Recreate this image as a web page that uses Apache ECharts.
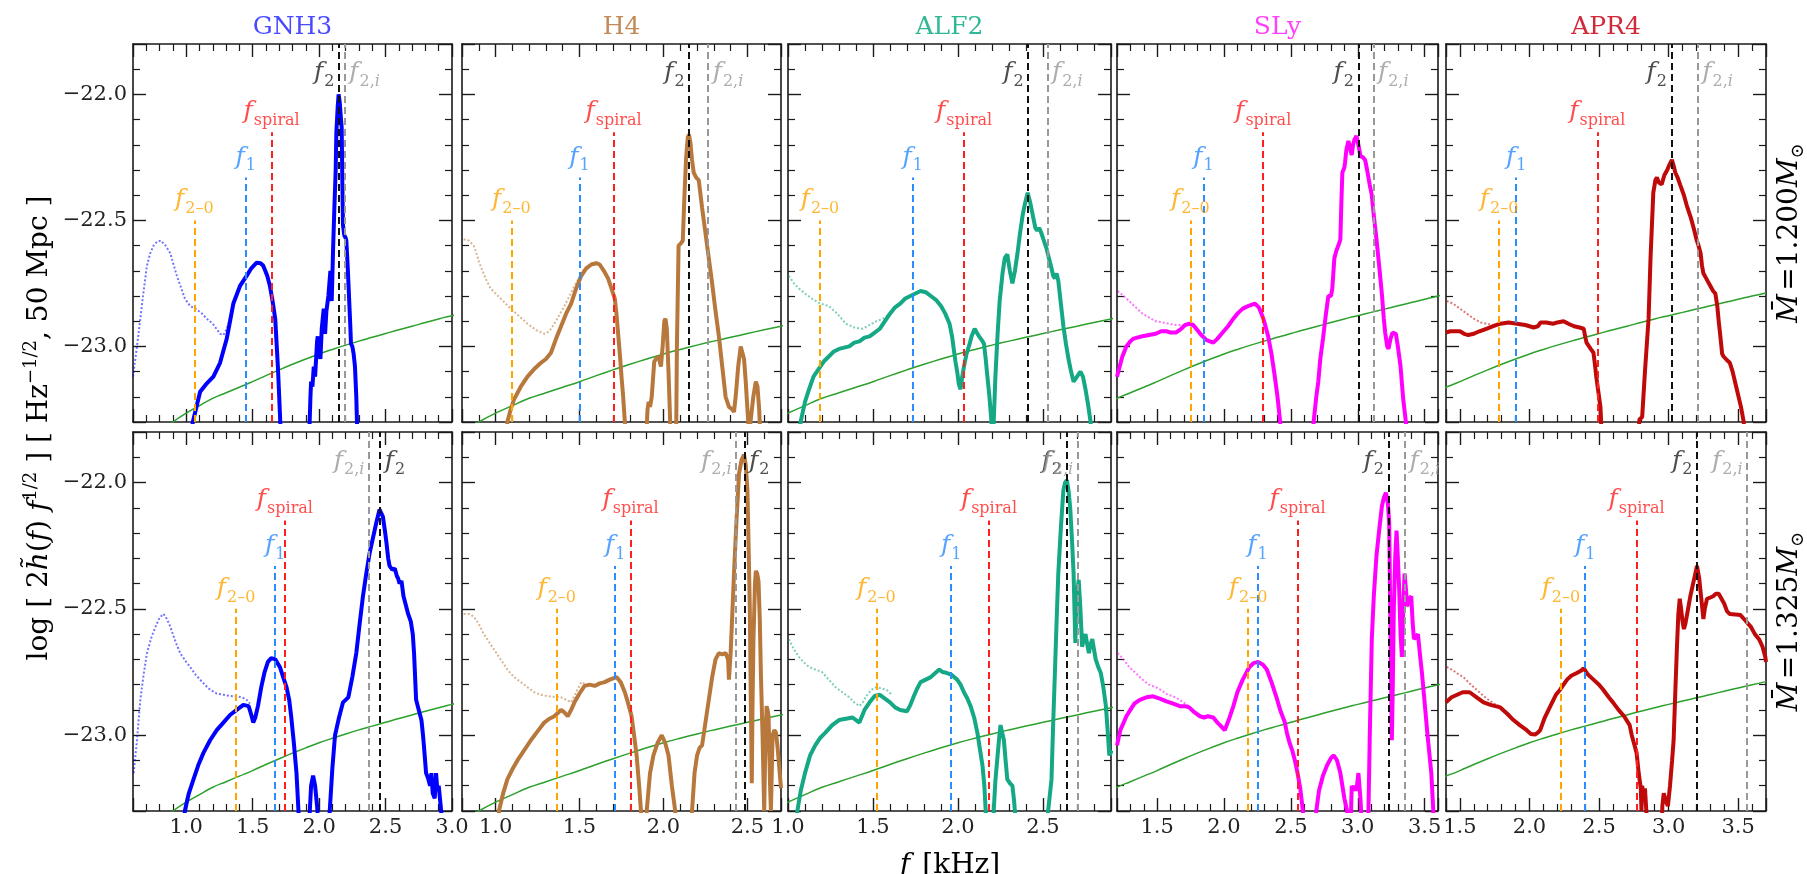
<!DOCTYPE html>
<html><head><meta charset="utf-8">
<script src="https://cdn.jsdelivr.net/npm/echarts@6/dist/echarts.min.js"></script>
<style>html,body{margin:0;padding:0;background:#fff}#c{width:1807px;height:874px}</style>
</head><body><div id="c"></div>
<script>
// ---------------- DATA ----------------
const EOS = ['GNH3', 'H4', 'ALF2', 'SLy', 'APR4'];
const MASSES = ['1.200', '1.325'];
const xMinArr = [0.6, 0.8, 1.0, 1.2, 1.4];
const xMaxArr = [3.0, 2.7, 2.9, 3.6, 3.7];
const yMin = -23.3, yMax = -21.8;

// detector noise curve (same in every panel)
const noiseF = [0.6,0.7,0.8,0.9,1.0,1.1,1.2,1.3,1.4,1.5,1.6,1.7,1.8,1.9,2.0,2.1,2.2,2.3,2.4,2.5,2.6,2.7,2.8,2.9,3.0,3.1,3.2,3.3,3.4,3.5,3.6,3.7];
const noiseV = [-23.43,-23.38,-23.34,-23.30,-23.265,-23.235,-23.206,-23.184,-23.162,-23.14,-23.116,-23.093,-23.071,-23.05,-23.03,-23.012,-22.995,-22.979,-22.964,-22.949,-22.934,-22.92,-22.905,-22.891,-22.878,-22.865,-22.852,-22.839,-22.826,-22.813,-22.80,-22.788];

// characteristic frequencies (kHz), per EOS, M = 1.200 and 1.325
const f20_1200 = [1.062, 1.094, 1.188, 1.748, 1.782];
const f1_1200  = [1.448, 1.500, 1.734, 1.847, 1.904];
const fsp_1200 = [1.643, 1.703, 2.036, 2.293, 2.488];
const f2_1200  = [2.150, 2.153, 2.413, 3.005, 3.020];
const f2i_1200 = [2.193, 2.266, 2.526, 3.117, 3.210];
const f20_1325 = [1.375, 1.364, 1.520, 2.180, 2.226];
const f1_1325  = [1.670, 1.712, 1.960, 2.250, 2.400];
const fsp_1325 = [1.743, 1.804, 2.182, 2.550, 2.770];
const f2_1325  = [2.460, 2.482, 2.638, 3.230, 3.204];
const f2i_1325 = [2.375, 2.433, 2.704, 3.353, 3.565];

// spectra: solid (full) and dotted (inspiral) curves
const GNH3_1200 = [[1.03,-23.4],[1.05,-23.3],[1.105,-23.18],[1.15,-23.15],[1.205,-23.12],[1.255,-23.065],[1.305,-22.97],[1.355,-22.83],[1.405,-22.76],[1.455,-22.72],[1.49,-22.69],[1.53,-22.668],[1.56,-22.67],[1.58,-22.68],[1.61,-22.72],[1.63,-22.76],[1.65,-22.82],[1.67,-22.89],[1.69,-23.08],[1.70,-23.2],[1.72,-23.45],
 [1.92,-23.45],[1.935,-23.2],[1.94,-23.14],[1.95,-23.16],[1.96,-23.08],[1.97,-23.12],[1.985,-22.98],[1.99,-22.96],[2.0,-23.02],[2.01,-23.05],[2.02,-22.93],[2.035,-22.85],[2.045,-22.95],[2.055,-22.86],[2.07,-22.80],[2.085,-22.70],[2.095,-22.82],[2.105,-22.62],[2.115,-22.45],[2.125,-22.30],[2.13,-22.15],[2.14,-22.05],[2.147,-22.0],[2.155,-22.03],[2.165,-22.10],[2.17,-22.13],[2.175,-22.35],[2.18,-22.52],[2.19,-22.56],[2.2,-22.57],[2.205,-22.58],[2.215,-22.68],[2.225,-22.80],[2.235,-22.92],[2.24,-22.99],[2.25,-23.0],[2.26,-23.03],[2.27,-23.08],[2.28,-23.2],[2.29,-23.4]];
const GNH3_1200_insp = [[0.6,-23.12],[0.63,-23.0],[0.655,-22.89],[0.68,-22.78],[0.705,-22.68],[0.73,-22.63],[0.755,-22.60],[0.78,-22.585],[0.81,-22.58],[0.845,-22.60],[0.88,-22.63],[0.93,-22.72],[0.99,-22.81],[1.03,-22.84],[1.07,-22.85],[1.12,-22.87],[1.155,-22.89],[1.2,-22.91],[1.255,-22.95],[1.28,-22.955],[1.305,-22.93],[1.33,-22.89],[1.355,-22.84],[1.38,-22.8],[1.405,-22.76],[1.45,-22.72]];
const GNH3_1325 = [[0.98,-23.4],[0.99,-23.3],[1.02,-23.23],[1.055,-23.175],[1.09,-23.12],[1.13,-23.07],[1.18,-23.02],[1.23,-22.98],[1.28,-22.95],[1.33,-22.92],[1.38,-22.9],[1.43,-22.88],[1.47,-22.885],[1.49,-22.92],[1.505,-22.95],[1.52,-22.93],[1.54,-22.885],[1.565,-22.81],[1.59,-22.75],[1.615,-22.71],[1.64,-22.695],[1.67,-22.70],[1.705,-22.73],[1.73,-22.77],[1.755,-22.81],[1.775,-22.86],[1.79,-22.925],[1.81,-23.03],[1.83,-23.15],[1.845,-23.3],[1.85,-23.4],
 [1.92,-23.4],[1.93,-23.3],[1.94,-23.2],[1.955,-23.16],[1.97,-23.2],[1.985,-23.28],[2.0,-23.4],
 [2.07,-23.4],[2.08,-23.3],[2.1,-23.13],[2.12,-23.0],[2.15,-22.93],[2.18,-22.87],[2.2,-22.86],[2.22,-22.85],[2.25,-22.77],[2.28,-22.675],[2.305,-22.56],[2.33,-22.45],[2.355,-22.36],[2.38,-22.28],[2.405,-22.22],[2.43,-22.16],[2.455,-22.107],[2.48,-22.135],[2.495,-22.19],[2.505,-22.23],[2.52,-22.3],[2.53,-22.33],[2.55,-22.345],[2.57,-22.34],[2.585,-22.37],[2.595,-22.38],[2.605,-22.40],[2.62,-22.39],[2.635,-22.45],[2.65,-22.48],[2.67,-22.52],[2.69,-22.55],[2.705,-22.60],[2.715,-22.68],[2.73,-22.86],[2.745,-22.89],[2.755,-22.91],[2.77,-22.94],[2.78,-22.99],[2.79,-23.05],[2.805,-23.15],[2.82,-23.17],[2.835,-23.2],[2.845,-23.15],[2.855,-23.23],[2.87,-23.25],[2.88,-23.15],[2.89,-23.22],[2.9,-23.2],[2.915,-23.28],[2.935,-23.4]];
const GNH3_1325_insp = [[0.605,-23.15],[0.63,-23.02],[0.655,-22.86],[0.68,-22.76],[0.705,-22.675],[0.74,-22.61],[0.77,-22.57],[0.80,-22.535],[0.83,-22.52],[0.855,-22.54],[0.88,-22.57],[0.92,-22.63],[0.955,-22.675],[1.0,-22.71],[1.03,-22.73],[1.07,-22.76],[1.105,-22.78],[1.14,-22.80],[1.18,-22.82],[1.23,-22.835],[1.28,-22.84],[1.33,-22.845],[1.38,-22.846],[1.42,-22.85],[1.455,-22.86],[1.48,-22.875]];

const H4_1200 = [[1.06,-23.4],[1.07,-23.3],[1.09,-23.25],[1.11,-23.21],[1.15,-23.16],[1.19,-23.12],[1.23,-23.09],[1.27,-23.065],[1.30,-23.05],[1.33,-23.025],[1.36,-22.97],[1.39,-22.92],[1.42,-22.87],[1.45,-22.83],[1.48,-22.77],[1.51,-22.72],[1.54,-22.69],[1.57,-22.675],[1.6,-22.67],[1.62,-22.675],[1.645,-22.70],[1.67,-22.73],[1.69,-22.77],[1.71,-22.81],[1.72,-22.87],[1.73,-22.95],[1.74,-23.03],[1.75,-23.12],[1.76,-23.2],[1.77,-23.3],[1.78,-23.4],
 [1.895,-23.4],[1.905,-23.25],[1.912,-23.22],[1.92,-23.24],[1.93,-23.2],[1.945,-23.06],[1.955,-23.05],[1.97,-23.04],[1.985,-23.08],[1.995,-23.0],[2.005,-22.9],[2.012,-22.89],[2.02,-22.93],[2.03,-23.1],[2.04,-23.3],[2.045,-23.4],
 [2.075,-23.4],[2.08,-23.0],[2.09,-22.6],[2.105,-22.59],[2.115,-22.58],[2.125,-22.4],[2.135,-22.25],[2.145,-22.17],[2.152,-22.16],[2.16,-22.19],[2.17,-22.26],[2.18,-22.31],[2.195,-22.33],[2.21,-22.34],[2.23,-22.45],[2.25,-22.55],[2.27,-22.65],[2.29,-22.75],[2.31,-22.86],[2.33,-22.96],[2.35,-23.08],[2.37,-23.2],[2.39,-23.24],[2.41,-23.25],[2.42,-23.26],[2.43,-23.2],[2.445,-23.08],[2.46,-23.0],[2.47,-23.0],[2.48,-23.05],[2.49,-23.14],[2.5,-23.25],[2.51,-23.35],[2.52,-23.35],[2.535,-23.2],[2.55,-23.14],[2.56,-23.16],[2.57,-23.25],[2.58,-23.4]];
const H4_1200_insp = [[0.81,-22.575],[0.84,-22.58],[0.87,-22.60],[0.91,-22.68],[0.94,-22.73],[0.97,-22.77],[1.03,-22.81],[1.09,-22.85],[1.14,-22.88],[1.19,-22.91],[1.24,-22.935],[1.29,-22.95],[1.32,-22.94],[1.35,-22.91],[1.41,-22.84],[1.47,-22.76],[1.53,-22.69],[1.59,-22.668]];
const H4_1325 = [[1.01,-23.4],[1.02,-23.3],[1.045,-23.23],[1.07,-23.175],[1.10,-23.135],[1.13,-23.10],[1.17,-23.06],[1.21,-23.02],[1.25,-22.985],[1.29,-22.95],[1.32,-22.935],[1.35,-22.925],[1.39,-22.90],[1.41,-22.91],[1.43,-22.925],[1.45,-22.9],[1.47,-22.87],[1.50,-22.835],[1.53,-22.805],[1.56,-22.80],[1.59,-22.805],[1.62,-22.795],[1.65,-22.79],[1.68,-22.78],[1.72,-22.77],[1.745,-22.79],[1.77,-22.83],[1.79,-22.875],[1.81,-22.925],[1.825,-23.0],[1.84,-23.08],[1.855,-23.2],[1.866,-23.3],[1.87,-23.4],
 [1.895,-23.4],[1.90,-23.3],[1.92,-23.15],[1.94,-23.08],[1.965,-23.03],[1.99,-23.0],[2.01,-23.03],[2.03,-23.08],[2.05,-23.2],[2.07,-23.3],[2.075,-23.4],
 [2.165,-23.4],[2.17,-23.3],[2.185,-23.15],[2.20,-23.08],[2.215,-23.05],[2.23,-23.04],[2.25,-22.95],[2.27,-22.86],[2.29,-22.77],[2.31,-22.70],[2.33,-22.675],[2.35,-22.68],[2.37,-22.675],[2.385,-22.70],[2.39,-22.78],[2.40,-22.675],[2.41,-22.52],[2.42,-22.36],[2.435,-22.15],[2.45,-21.965],[2.465,-21.91],[2.48,-21.89],[2.49,-21.93],[2.50,-22.03],[2.507,-22.25],[2.514,-22.49],[2.52,-22.85],[2.526,-23.19],[2.53,-22.9],[2.536,-22.62],[2.545,-22.40],[2.55,-22.35],[2.558,-22.36],[2.566,-22.39],[2.574,-22.55],[2.58,-22.75],[2.59,-23.0],[2.60,-23.3],[2.605,-23.1],[2.614,-22.885],[2.62,-22.9],[2.626,-22.925],[2.635,-23.2],[2.64,-23.3],[2.65,-23.0],[2.66,-22.98],[2.67,-22.99],[2.68,-23.05],[2.70,-23.21]];
const H4_1325_insp = [[0.81,-22.52],[0.84,-22.52],[0.87,-22.53],[0.90,-22.56],[0.93,-22.60],[0.96,-22.63],[0.99,-22.66],[1.03,-22.70],[1.07,-22.74],[1.11,-22.77],[1.15,-22.79],[1.19,-22.81],[1.23,-22.83],[1.27,-22.84],[1.31,-22.846],[1.35,-22.848],[1.39,-22.85],[1.42,-22.86],[1.45,-22.87],[1.48,-22.83],[1.51,-22.79],[1.54,-22.8]];

const ALF2_1200 = [[1.065,-23.4],[1.074,-23.3],[1.10,-23.22],[1.124,-23.17],[1.15,-23.12],[1.18,-23.09],[1.21,-23.06],[1.24,-23.04],[1.27,-23.02],[1.30,-23.01],[1.33,-23.005],[1.36,-23.0],[1.39,-22.985],[1.42,-22.98],[1.45,-22.965],[1.48,-22.96],[1.51,-22.945],[1.54,-22.93],[1.57,-22.9],[1.60,-22.87],[1.63,-22.845],[1.66,-22.83],[1.69,-22.81],[1.72,-22.80],[1.75,-22.79],[1.78,-22.78],[1.81,-22.785],[1.84,-22.80],[1.87,-22.815],[1.90,-22.84],[1.925,-22.87],[1.95,-22.91],[1.965,-22.96],[1.975,-23.01],[1.985,-23.06],[1.995,-23.10],[2.005,-23.15],[2.015,-23.17],[2.025,-23.12],[2.035,-23.08],[2.05,-23.03],[2.064,-23.0],[2.08,-22.96],[2.098,-22.93],[2.11,-22.945],[2.124,-22.96],[2.14,-22.975],[2.153,-22.99],[2.163,-23.05],[2.17,-23.1],[2.185,-23.2],[2.197,-23.3],[2.2,-23.4],
 [2.205,-23.4],[2.21,-23.3],[2.22,-23.12],[2.233,-22.95],[2.245,-22.82],[2.262,-22.71],[2.275,-22.65],[2.29,-22.635],[2.305,-22.7],[2.32,-22.75],[2.335,-22.7],[2.35,-22.63],[2.365,-22.55],[2.38,-22.48],[2.395,-22.43],[2.41,-22.39],[2.425,-22.43],[2.44,-22.48],[2.455,-22.53],[2.466,-22.54],[2.478,-22.53],[2.49,-22.55],[2.505,-22.58],[2.52,-22.61],[2.535,-22.65],[2.55,-22.69],[2.56,-22.72],[2.57,-22.73],[2.58,-22.71],[2.59,-22.74],[2.605,-22.83],[2.62,-22.92],[2.635,-22.99],[2.65,-23.05],[2.665,-23.1],[2.68,-23.14],[2.70,-23.12],[2.72,-23.10],[2.735,-23.12],[2.75,-23.17],[2.765,-23.23],[2.78,-23.3],[2.79,-23.4]];
const ALF2_1200_insp = [[1.005,-22.72],[1.035,-22.75],[1.064,-22.77],[1.10,-22.79],[1.14,-22.81],[1.19,-22.83],[1.24,-22.84],[1.29,-22.87],[1.34,-22.91],[1.39,-22.925],[1.44,-22.93],[1.48,-22.915],[1.52,-22.90],[1.56,-22.89],[1.60,-22.87]];
const ALF2_1325 = [[1.045,-23.4],[1.055,-23.3],[1.075,-23.22],[1.10,-23.15],[1.13,-23.08],[1.16,-23.04],[1.19,-23.01],[1.22,-22.99],[1.26,-22.96],[1.30,-22.94],[1.34,-22.935],[1.38,-22.93],[1.40,-22.94],[1.42,-22.95],[1.45,-22.9],[1.48,-22.87],[1.51,-22.845],[1.54,-22.84],[1.57,-22.855],[1.60,-22.87],[1.63,-22.89],[1.66,-22.90],[1.70,-22.905],[1.72,-22.88],[1.74,-22.846],[1.76,-22.815],[1.78,-22.79],[1.81,-22.78],[1.84,-22.77],[1.865,-22.755],[1.89,-22.74],[1.91,-22.75],[1.935,-22.754],[1.96,-22.76],[1.995,-22.78],[2.015,-22.80],[2.035,-22.83],[2.055,-22.855],[2.074,-22.885],[2.095,-22.93],[2.114,-22.99],[2.13,-23.06],[2.144,-23.12],[2.155,-23.2],[2.163,-23.3],[2.167,-23.4],
 [2.205,-23.4],[2.21,-23.3],[2.22,-23.18],[2.233,-23.08],[2.245,-22.99],[2.25,-22.96],[2.26,-22.99],[2.27,-23.02],[2.28,-23.1],[2.29,-23.175],[2.305,-23.19],[2.32,-23.2],[2.33,-23.26],[2.34,-23.35],[2.345,-23.4],
 [2.52,-23.4],[2.53,-23.3],[2.55,-23.175],[2.56,-22.95],[2.57,-22.754],[2.58,-22.55],[2.59,-22.36],[2.605,-22.18],[2.62,-22.03],[2.63,-22.0],[2.64,-21.99],[2.65,-22.03],[2.66,-22.10],[2.67,-22.22],[2.68,-22.36],[2.69,-22.635],[2.70,-22.45],[2.71,-22.385],[2.72,-22.5],[2.73,-22.65],[2.74,-22.62],[2.75,-22.60],[2.76,-22.64],[2.77,-22.675],[2.78,-22.64],[2.79,-22.62],[2.80,-22.66],[2.81,-22.70],[2.825,-22.73],[2.84,-22.754],[2.855,-22.81],[2.87,-22.885],[2.88,-22.98],[2.89,-23.08],[2.905,-23.06]];
const ALF2_1325_insp = [[1.005,-22.62],[1.035,-22.66],[1.064,-22.69],[1.09,-22.71],[1.124,-22.73],[1.16,-22.74],[1.20,-22.75],[1.24,-22.78],[1.28,-22.81],[1.32,-22.83],[1.36,-22.85],[1.39,-22.87],[1.42,-22.885],[1.44,-22.87],[1.46,-22.846],[1.49,-22.82],[1.52,-22.81],[1.55,-22.815],[1.58,-22.82],[1.61,-22.84]];

const SLy_1200 = [[1.2,-23.12],[1.22,-23.08],[1.24,-23.04],[1.27,-23.0],[1.30,-22.98],[1.32,-22.97],[1.35,-22.965],[1.39,-22.96],[1.44,-22.955],[1.49,-22.95],[1.53,-22.94],[1.57,-22.94],[1.60,-22.945],[1.64,-22.945],[1.68,-22.93],[1.71,-22.915],[1.74,-22.91],[1.77,-22.915],[1.80,-22.935],[1.83,-22.955],[1.87,-22.975],[1.92,-22.985],[1.95,-22.97],[1.99,-22.945],[2.03,-22.92],[2.07,-22.89],[2.10,-22.87],[2.14,-22.85],[2.18,-22.84],[2.23,-22.83],[2.26,-22.845],[2.28,-22.87],[2.30,-22.9],[2.33,-22.96],[2.355,-23.03],[2.38,-23.12],[2.40,-23.2],[2.42,-23.3],[2.43,-23.4],
 [2.66,-23.4],[2.67,-23.3],[2.69,-23.2],[2.705,-23.14],[2.72,-23.05],[2.74,-22.97],[2.76,-22.88],[2.78,-22.80],[2.80,-22.80],[2.81,-22.77],[2.825,-22.65],[2.84,-22.62],[2.855,-22.60],[2.87,-22.575],[2.878,-22.42],[2.885,-22.31],[2.9,-22.29],[2.905,-22.27],[2.915,-22.22],[2.93,-22.185],[2.945,-22.22],[2.955,-22.24],[2.965,-22.2],[2.975,-22.18],[2.99,-22.165],[3.005,-22.2],[3.02,-22.245],[3.04,-22.25],[3.055,-22.26],[3.07,-22.3],[3.09,-22.36],[3.105,-22.40],[3.12,-22.48],[3.14,-22.575],[3.16,-22.68],[3.18,-22.79],[3.195,-22.89],[3.205,-22.945],[3.22,-23.0],[3.23,-23.01],[3.245,-22.97],[3.26,-22.945],[3.27,-22.94],[3.285,-22.95],[3.30,-23.0],[3.32,-23.08],[3.34,-23.21],[3.36,-23.3],[3.37,-23.4]];
const SLy_1200_insp = [[1.205,-22.78],[1.25,-22.80],[1.29,-22.82],[1.34,-22.845],[1.39,-22.87],[1.44,-22.885],[1.49,-22.90],[1.54,-22.905],[1.59,-22.91],[1.64,-22.915],[1.69,-22.915],[1.74,-22.91]];
const SLy_1325 = [[1.2,-23.04],[1.225,-22.98],[1.25,-22.95],[1.27,-22.925],[1.30,-22.9],[1.33,-22.875],[1.37,-22.86],[1.42,-22.85],[1.47,-22.846],[1.52,-22.855],[1.57,-22.866],[1.62,-22.875],[1.67,-22.885],[1.71,-22.885],[1.74,-22.89],[1.78,-22.91],[1.82,-22.925],[1.85,-22.93],[1.88,-22.925],[1.92,-22.93],[1.95,-22.95],[1.97,-22.96],[2.005,-22.98],[2.035,-22.94],[2.07,-22.885],[2.10,-22.83],[2.14,-22.78],[2.17,-22.75],[2.19,-22.73],[2.22,-22.715],[2.255,-22.71],[2.29,-22.72],[2.32,-22.74],[2.355,-22.79],[2.39,-22.846],[2.42,-22.9],[2.455,-22.95],[2.47,-22.99],[2.49,-23.03],[2.51,-23.06],[2.53,-23.10],[2.55,-23.15],[2.57,-23.21],[2.59,-23.3],[2.60,-23.4],
 [2.68,-23.4],[2.69,-23.3],[2.71,-23.22],[2.74,-23.16],[2.77,-23.12],[2.80,-23.09],[2.82,-23.08],[2.845,-23.1],[2.87,-23.15],[2.90,-23.25],[2.92,-23.3],[2.93,-23.4],
 [2.945,-23.4],[2.955,-23.2],[2.97,-23.22],[2.98,-23.2],[2.99,-23.22],[3.005,-23.15],[3.02,-23.25],[3.035,-23.4],
 [3.075,-23.4],[3.08,-23.3],[3.09,-23.0],[3.105,-22.62],[3.12,-22.45],[3.14,-22.29],[3.16,-22.19],[3.18,-22.096],[3.195,-22.06],[3.21,-22.04],[3.225,-22.08],[3.235,-22.16],[3.245,-22.6],[3.255,-23.02],[3.262,-22.8],[3.27,-22.49],[3.28,-22.3],[3.29,-22.19],[3.30,-22.3],[3.31,-22.425],[3.32,-22.6],[3.33,-22.69],[3.34,-22.5],[3.35,-22.36],[3.36,-22.42],[3.37,-22.49],[3.385,-22.46],[3.40,-22.45],[3.41,-22.55],[3.42,-22.62],[3.435,-22.61],[3.45,-22.60],[3.465,-22.68],[3.48,-22.754],[3.50,-22.87],[3.52,-22.99],[3.535,-23.07],[3.55,-23.15],[3.565,-23.3],[3.57,-23.4]];
const SLy_1325_insp = [[1.205,-22.675],[1.25,-22.70],[1.29,-22.73],[1.34,-22.754],[1.39,-22.78],[1.44,-22.80],[1.49,-22.81],[1.54,-22.825],[1.58,-22.84],[1.62,-22.846],[1.67,-22.86],[1.71,-22.875],[1.74,-22.885]];

const APR4_1200 = [[1.40,-22.945],[1.43,-22.94],[1.46,-22.94],[1.50,-22.94],[1.53,-22.95],[1.56,-22.955],[1.60,-22.95],[1.64,-22.94],[1.69,-22.93],[1.74,-22.92],[1.79,-22.91],[1.85,-22.905],[1.91,-22.91],[1.97,-22.915],[2.03,-22.925],[2.06,-22.92],[2.08,-22.905],[2.12,-22.905],[2.17,-22.91],[2.2,-22.905],[2.245,-22.90],[2.28,-22.91],[2.32,-22.92],[2.36,-22.925],[2.39,-22.93],[2.40,-22.96],[2.41,-22.985],[2.44,-23.01],[2.46,-23.025],[2.47,-23.07],[2.48,-23.12],[2.495,-23.18],[2.51,-23.24],[2.515,-23.3],[2.52,-23.4],
 [2.78,-23.4],[2.79,-23.29],[2.81,-23.28],[2.83,-23.1],[2.856,-22.89],[2.87,-22.65],[2.89,-22.39],[2.905,-22.34],[2.916,-22.33],[2.93,-22.35],[2.95,-22.357],[2.97,-22.32],[2.99,-22.30],[3.005,-22.28],[3.024,-22.26],[3.035,-22.28],[3.048,-22.31],[3.065,-22.33],[3.084,-22.36],[3.11,-22.40],[3.13,-22.44],[3.16,-22.49],[3.18,-22.53],[3.20,-22.575],[3.215,-22.60],[3.23,-22.63],[3.24,-22.68],[3.25,-22.71],[3.27,-22.73],[3.30,-22.76],[3.32,-22.78],[3.336,-22.79],[3.35,-22.84],[3.36,-22.9],[3.37,-22.95],[3.385,-23.03],[3.395,-23.04],[3.42,-23.055],[3.44,-23.065],[3.46,-23.1],[3.49,-23.17],[3.52,-23.24],[3.54,-23.3],[3.55,-23.4]];
const APR4_1200_insp = [[1.405,-22.82],[1.45,-22.83],[1.50,-22.85],[1.55,-22.87],[1.60,-22.89],[1.65,-22.905],[1.69,-22.91],[1.74,-22.915],[1.79,-22.91]];
const APR4_1325 = [[1.40,-22.87],[1.44,-22.85],[1.48,-22.84],[1.52,-22.83],[1.57,-22.83],[1.62,-22.85],[1.67,-22.87],[1.72,-22.88],[1.79,-22.89],[1.84,-22.915],[1.885,-22.94],[1.93,-22.96],[1.98,-22.98],[2.01,-22.995],[2.04,-22.997],[2.06,-22.99],[2.077,-22.98],[2.11,-22.93],[2.15,-22.885],[2.19,-22.84],[2.22,-22.82],[2.27,-22.78],[2.30,-22.765],[2.34,-22.754],[2.37,-22.745],[2.39,-22.735],[2.42,-22.76],[2.46,-22.78],[2.50,-22.80],[2.53,-22.82],[2.57,-22.85],[2.60,-22.87],[2.64,-22.90],[2.68,-22.925],[2.72,-22.96],[2.735,-23.0],[2.75,-23.03],[2.77,-23.07],[2.785,-23.15],[2.80,-23.21],[2.805,-23.3],[2.81,-23.2],[2.82,-23.25],[2.83,-23.21],[2.84,-23.3],[2.845,-23.4],
 [2.95,-23.4],[2.955,-23.28],[2.965,-23.23],[2.98,-23.26],[2.995,-23.28],[3.01,-23.2],[3.025,-23.1],[3.036,-23.02],[3.05,-22.8],[3.06,-22.65],[3.07,-22.52],[3.08,-22.46],[3.09,-22.5],[3.10,-22.55],[3.11,-22.58],[3.12,-22.56],[3.14,-22.50],[3.156,-22.45],[3.18,-22.39],[3.204,-22.33],[3.22,-22.38],[3.235,-22.46],[3.25,-22.54],[3.26,-22.50],[3.276,-22.46],[3.30,-22.455],[3.32,-22.45],[3.34,-22.44],[3.36,-22.44],[3.38,-22.46],[3.40,-22.48],[3.42,-22.51],[3.44,-22.52],[3.48,-22.522],[3.515,-22.524],[3.55,-22.545],[3.59,-22.57],[3.62,-22.6],[3.65,-22.62],[3.675,-22.65],[3.695,-22.69],[3.70,-22.71]];
const APR4_1325_insp = [[1.405,-22.73],[1.44,-22.74],[1.48,-22.755],[1.525,-22.77],[1.57,-22.795],[1.62,-22.82],[1.67,-22.845],[1.72,-22.866],[1.76,-22.88],[1.79,-22.885]];

// ---------------- STYLE / LAYOUT ----------------
const FONT = 'DejaVu Serif';
const eosColor   = ['#0000ff', '#b8783c', '#14a884', '#ff00ff', '#c00a0a'];
const titleColor = ['#4a4aff', '#c28a58', '#30b896', '#ff40ff', '#d02a3a'];
const gridLeft  = [133, 462, 788, 1117, 1446];
const gridWidth = [319, 319, 323, 321, 320];
const gridTop   = [44, 432];
const gridH     = [378, 379];

const SOLID = [[GNH3_1200, H4_1200, ALF2_1200, SLy_1200, APR4_1200],
               [GNH3_1325, H4_1325, ALF2_1325, SLy_1325, APR4_1325]];
const INSP  = [[GNH3_1200_insp, H4_1200_insp, ALF2_1200_insp, SLy_1200_insp, APR4_1200_insp],
               [GNH3_1325_insp, H4_1325_insp, ALF2_1325_insp, SLy_1325_insp, APR4_1325_insp]];
const F20 = [f20_1200, f20_1325], F1 = [f1_1200, f1_1325], FSP = [fsp_1200, fsp_1325],
      F2 = [f2_1200, f2_1325], F2I = [f2i_1200, f2i_1325];

const noise = noiseF.map((f, k) => [f, noiseV[k]]);

const C20 = '#ffa500', C1 = '#2b8cff', CSP = '#ff1f1f', C2 = '#111111', C2I = '#999999';
const TOP20 = -22.5, TOP1 = -22.33, TOPSP = -22.15, LABY2 = -21.915;

function richFor(color) {
  return {
    f:  {fontFamily: FONT, fontStyle: 'italic', fontSize: 25, color: color},
    s:  {fontFamily: FONT, fontSize: 16, color: color, padding: [18, 0, 0, 1]},
    si: {fontFamily: FONT, fontStyle: 'italic', fontSize: 16, color: color, padding: [18, 0, 0, 0]}
  };
}
const isHalf = v => Math.abs(v * 2 - Math.round(v * 2)) < 1e-6;

const grids = [], xAxes = [], yAxes = [], series = [];
const axisLineStyle = {show: true, onZero: false, lineStyle: {color: '#1a1a1a', width: 1.6}};
const tickStyle = {show: true, inside: true, length: 13, lineStyle: {color: '#1a1a1a', width: 1.4}};
const minorStyle = {show: true, splitNumber: 5, length: 7, lineStyle: {color: '#1a1a1a', width: 1.2}};

for (let r = 0; r < 2; r++) {
  for (let c = 0; c < 5; c++) {
    const i = r * 5 + c;
    grids.push({left: gridLeft[c], top: gridTop[r], width: gridWidth[c], height: gridH[r]});
    const xs = Math.round((xMaxArr[c] - xMinArr[c]) / 0.5);
    const xCommon = {type: 'value', gridIndex: i, min: xMinArr[c], max: xMaxArr[c], splitNumber: xs,
      axisLine: axisLineStyle, axisTick: tickStyle, minorTick: minorStyle, splitLine: {show: false}};
    xAxes.push(Object.assign({}, xCommon, {position: 'bottom',
      axisLabel: {show: r === 1, margin: 6, fontFamily: FONT, fontSize: 21, color: '#222',
        formatter: v => isHalf(v) ? v.toFixed(1) : ''}}));
    xAxes.push(Object.assign({}, xCommon, {position: 'top', axisLabel: {show: false}}));
    const yCommon = {type: 'value', gridIndex: i, min: yMin, max: yMax, splitNumber: 3,
      axisLine: axisLineStyle, axisTick: tickStyle, minorTick: minorStyle, splitLine: {show: false}};
    yAxes.push(Object.assign({}, yCommon, {position: 'left',
      axisLabel: {show: c === 0, margin: 6, fontFamily: FONT, fontSize: 21, color: '#222',
        formatter: v => isHalf(v) ? '\u2212' + Math.abs(v).toFixed(1) : ''}}));
    yAxes.push(Object.assign({}, yCommon, {position: 'right', axisLabel: {show: false}}));

    const xi = 2 * i, yi = 2 * i;
    series.push({type: 'line', xAxisIndex: xi, yAxisIndex: yi, data: INSP[r][c], showSymbol: false,
      silent: true, z: 2, lineStyle: {color: eosColor[c], width: 2, type: 'dotted', opacity: 0.55}});
    series.push({type: 'line', xAxisIndex: xi, yAxisIndex: yi, data: noise, showSymbol: false, smooth: 0.4,
      silent: true, z: 3, lineStyle: {color: '#2ca02c', width: 1.5}});
    const vlines = [[F20[r][c], TOP20, C20], [F1[r][c], TOP1, C1], [FSP[r][c], TOPSP, CSP],
                    [F2[r][c], yMax, C2], [F2I[r][c], yMax, C2I]];
    series.push({type: 'line', xAxisIndex: xi, yAxisIndex: yi, data: SOLID[r][c], showSymbol: false,
      silent: true, z: 4, lineStyle: {color: eosColor[c], width: 4},
      markLine: {symbol: ['none', 'none'], silent: true, animation: false, label: {show: false},
        data: vlines.map(([f, top, col]) => [
          {coord: [f, yMin], lineStyle: {color: col, width: 2, type: [7, 4]}},
          {coord: [f, top]}])}});
    const f2 = F2[r][c], f2i = F2I[r][c];
    let side2, side2i;
    if (f2 < f2i) { side2 = 'left'; side2i = 'right'; } else { side2 = 'right'; side2i = 'left'; }
    if (side2i === 'right' && (xMaxArr[c] - f2i) < 0.2) side2i = 'left';
    const labs = [
      {value: [F20[r][c], TOP20], label: {show: true, position: 'top', distance: 3, formatter: '{f|f}{s|2\u20130}', rich: richFor(C20)}},
      {value: [F1[r][c], TOP1], label: {show: true, position: 'top', distance: 3, formatter: '{f|f}{s|1}', rich: richFor(C1)}},
      {value: [FSP[r][c], TOPSP], label: {show: true, position: 'top', distance: 3, formatter: '{f|f}{s|spiral}', rich: richFor(CSP)}},
      {value: [f2, LABY2], label: {show: true, position: side2, distance: 4, formatter: '{f|f}{s|2}', rich: richFor('#222')}},
      {value: [f2i, LABY2], label: {show: true, position: side2i, distance: 4, formatter: '{f|f}{s|2,}{si|i}', rich: richFor(C2I)}}
    ];
    series.push({type: 'scatter', xAxisIndex: xi, yAxisIndex: yi, data: labs, symbolSize: 1,
      itemStyle: {color: 'rgba(0,0,0,0)'}, silent: true, z: 6});
  }
}

const graphics = [];
for (let c = 0; c < 5; c++) {
  graphics.push({type: 'text', x: gridLeft[c] + gridWidth[c] / 2, y: 27,
    style: {text: EOS[c], fill: titleColor[c], font: '25px "DejaVu Serif"', align: 'center', verticalAlign: 'middle'}});
}
const txtRich = {
  n:   {fontFamily: FONT, fontSize: 28, color: '#222'},
  i:   {fontFamily: FONT, fontSize: 28, fontStyle: 'italic', color: '#222'},
  sup: {fontFamily: FONT, fontSize: 18, color: '#222', padding: [0, 0, 18, 0]},
  sub: {fontFamily: FONT, fontSize: 18, color: '#222', padding: [16, 0, 0, 0]}
};
graphics.push({type: 'text', x: 40, y: 428, rotation: Math.PI / 2,
  style: {text: '{n|log [ 2}{i|h\u0303}{n|(}{i|f}{n|) }{i|f}{sup|1/2}{n| ] [ Hz}{sup|\u22121/2}{n|, 50 Mpc ]}',
    rich: txtRich, align: 'center', verticalAlign: 'middle'}});
for (let r = 0; r < 2; r++) {
  graphics.push({type: 'text', x: 1790, y: gridTop[r] + gridH[r] / 2, rotation: Math.PI / 2,
    style: {text: '{i|M\u0304} {n|=' + MASSES[r] + '}{i|M}{sub|\u2299}', rich: txtRich, align: 'center', verticalAlign: 'middle'}});
}
graphics.push({type: 'text', x: 950, y: 866,
  style: {text: '{i|f} {n| [kHz]}', rich: txtRich, align: 'center', verticalAlign: 'middle'}});

const chart = echarts.init(document.getElementById('c'), null, {renderer: 'canvas'});
chart.setOption({
  animation: false,
  backgroundColor: '#fff',
  grid: grids, xAxis: xAxes, yAxis: yAxes, series: series, graphic: graphics
});
</script></body></html>
